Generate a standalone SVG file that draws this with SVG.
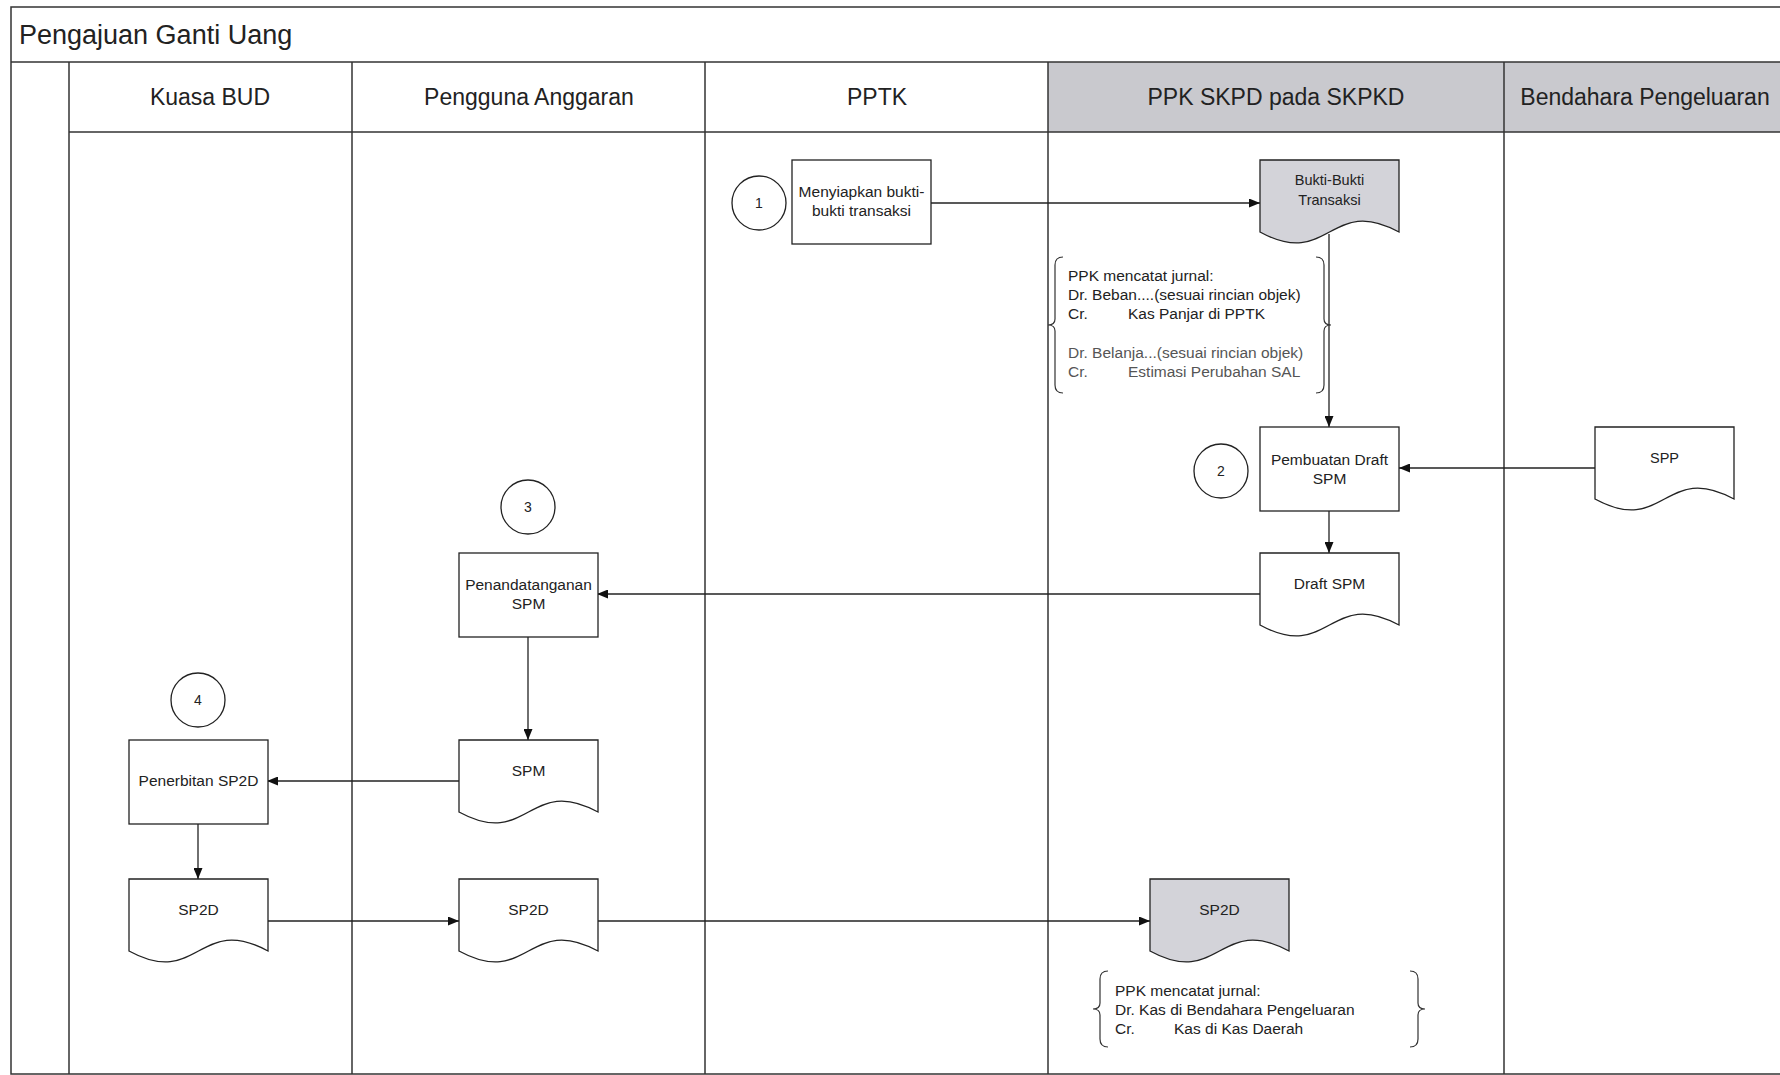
<svg xmlns="http://www.w3.org/2000/svg" width="1780" height="1075" viewBox="0 0 1780 1075">
<style>
  .frame{fill:none;stroke:#333;stroke-width:1.5}
  .grid{stroke:#333;stroke-width:1.5}
  .hdr{fill:#c9c9ce}
  .shape{fill:#fff;stroke:#222;stroke-width:1.3}
  .gshape{fill:#d3d3d9;stroke:#222;stroke-width:1.3}
  .conn{fill:none;stroke:#222;stroke-width:1.3}
  .brace{fill:none;stroke:#333;stroke-width:1.2}
  text{font-family:"Liberation Sans",Arial,sans-serif;fill:#222}
  .title{font-size:27px}
  .lane{font-size:23px;text-anchor:middle}
  .lbl{font-size:15.5px;text-anchor:middle}
  .sm{font-size:14.5px;text-anchor:middle}
  .num{font-size:14px;text-anchor:middle}
  .note{font-size:15.5px}
  .note2{font-size:15.5px;fill:#555}
</style>
<defs>
  <marker id="arr" markerUnits="userSpaceOnUse" markerWidth="11" markerHeight="9" refX="11" refY="4.5" orient="auto">
    <path d="M0,0 L11,4.5 L0,9 Z" fill="#111"/>
  </marker>
</defs>

<g id="frame">
  <rect class="hdr" x="1048" y="62" width="740" height="70"/>
  <rect class="frame" x="11" y="7" width="1790" height="1067"/>
  <line class="grid" x1="11" y1="62" x2="1780" y2="62"/>
  <line class="grid" x1="69" y1="62" x2="69" y2="1074"/>
  <line class="grid" x1="69" y1="132" x2="1780" y2="132"/>
  <line class="grid" x1="352" y1="62" x2="352" y2="1074"/>
  <line class="grid" x1="705" y1="62" x2="705" y2="1074"/>
  <line class="grid" x1="1048" y1="62" x2="1048" y2="1074"/>
  <line class="grid" x1="1504" y1="62" x2="1504" y2="1074"/>
  <text class="title" x="19" y="44">Pengajuan Ganti Uang</text>
  <text class="lane" x="210" y="105">Kuasa BUD</text>
  <text class="lane" x="529" y="105">Pengguna Anggaran</text>
  <text class="lane" x="877" y="105">PPTK</text>
  <text class="lane" x="1276" y="105">PPK SKPD pada SKPKD</text>
  <text class="lane" x="1645" y="105">Bendahara Pengeluaran</text>
</g>

<g id="connectors">
  <path class="conn" d="M931,203 H1260" marker-end="url(#arr)"/>
  <path class="conn" d="M1329,234 V427" marker-end="url(#arr)"/>
  <path class="conn" d="M1595,468 H1399" marker-end="url(#arr)"/>
  <path class="conn" d="M1329,511 V553" marker-end="url(#arr)"/>
  <path class="conn" d="M1260,594 H597" marker-end="url(#arr)"/>
  <path class="conn" d="M528,637 V740" marker-end="url(#arr)"/>
  <path class="conn" d="M459,781 H267" marker-end="url(#arr)"/>
  <path class="conn" d="M198,824 V879" marker-end="url(#arr)"/>
  <path class="conn" d="M267,921 H459" marker-end="url(#arr)"/>
  <path class="conn" d="M597,921 H1150" marker-end="url(#arr)"/>
</g>

<g id="step1">
  <circle class="shape" cx="759" cy="203" r="27"/>
  <text class="num" x="759" y="208">1</text>
</g>
<g id="menyiapkan">
  <rect class="shape" x="792" y="160" width="139" height="84"/>
  <text class="lbl" x="861.5" y="197">Menyiapkan bukti-</text>
  <text class="lbl" x="861.5" y="216">bukti transaksi</text>
</g>
<g id="bukti">
  <path class="gshape" d="M1260,160 H1399 V232 C1329.5,194 1329.5,270 1260,232 Z"/>
  <text class="sm" x="1329.5" y="185">Bukti-Bukti</text>
  <text class="sm" x="1329.5" y="205">Transaksi</text>
</g>
<g id="jurnal1">
  <path class="brace" d="M1063,257 Q1055,257 1055,265 V319 Q1055,325 1048,325 Q1055,325 1055,331 V385 Q1055,393 1063,393"/>
  <path class="brace" d="M1316,257 Q1324,257 1324,265 V319 Q1324,325 1331,325 Q1324,325 1324,331 V385 Q1324,393 1316,393"/>
  <text class="note" x="1068" y="281">PPK mencatat jurnal:</text>
  <text class="note" x="1068" y="300">Dr. Beban....(sesuai rincian objek)</text>
  <text class="note" x="1068" y="319">Cr.</text>
  <text class="note" x="1128" y="319">Kas Panjar di PPTK</text>
  <text class="note2" x="1068" y="358">Dr. Belanja...(sesuai rincian objek)</text>
  <text class="note2" x="1068" y="377">Cr.</text>
  <text class="note2" x="1128" y="377">Estimasi Perubahan SAL</text>
</g>
<g id="step2">
  <circle class="shape" cx="1221" cy="471" r="27"/>
  <text class="num" x="1221" y="476">2</text>
</g>
<g id="pembuatan">
  <rect class="shape" x="1260" y="427" width="139" height="84"/>
  <text class="lbl" x="1329.5" y="465">Pembuatan Draft</text>
  <text class="lbl" x="1329.5" y="484">SPM</text>
</g>
<g id="spp">
  <path class="shape" d="M1595,427 H1734 V499 C1664.5,461 1664.5,537 1595,499 Z"/>
  <text class="sm" x="1664.5" y="463">SPP</text>
</g>
<g id="draftspm">
  <path class="shape" d="M1260,553 H1399 V625 C1329.5,587 1329.5,663 1260,625 Z"/>
  <text class="lbl" x="1329.5" y="589">Draft SPM</text>
</g>
<g id="step3">
  <circle class="shape" cx="528" cy="507" r="27"/>
  <text class="num" x="528" y="512">3</text>
</g>
<g id="penandatanganan">
  <rect class="shape" x="459" y="553" width="139" height="84"/>
  <text class="lbl" x="528.5" y="590">Penandatanganan</text>
  <text class="lbl" x="528.5" y="609">SPM</text>
</g>
<g id="spm">
  <path class="shape" d="M459,740 H598 V812 C528.5,774 528.5,850 459,812 Z"/>
  <text class="lbl" x="528.5" y="776">SPM</text>
</g>
<g id="step4">
  <circle class="shape" cx="198" cy="700" r="27"/>
  <text class="num" x="198" y="705">4</text>
</g>
<g id="penerbitan">
  <rect class="shape" x="129" y="740" width="139" height="84"/>
  <text class="lbl" x="198.5" y="786">Penerbitan SP2D</text>
</g>
<g id="sp2d1">
  <path class="shape" d="M129,879 H268 V951 C198.5,913 198.5,989 129,951 Z"/>
  <text class="lbl" x="198.5" y="915">SP2D</text>
</g>
<g id="sp2d2">
  <path class="shape" d="M459,879 H598 V951 C528.5,913 528.5,989 459,951 Z"/>
  <text class="lbl" x="528.5" y="915">SP2D</text>
</g>
<g id="sp2d3">
  <path class="gshape" d="M1150,879 H1289 V951 C1219.5,913 1219.5,989 1150,951 Z"/>
  <text class="lbl" x="1219.5" y="915">SP2D</text>
</g>
<g id="jurnal2">
  <path class="brace" d="M1108,971 Q1100,971 1100,979 V1003 Q1100,1009 1093,1009 Q1100,1009 1100,1015 V1039 Q1100,1047 1108,1047"/>
  <path class="brace" d="M1410,971 Q1418,971 1418,979 V1003 Q1418,1009 1425,1009 Q1418,1009 1418,1015 V1039 Q1418,1047 1410,1047"/>
  <text class="note" x="1115" y="996">PPK mencatat jurnal:</text>
  <text class="note" x="1115" y="1015">Dr. Kas di Bendahara Pengeluaran</text>
  <text class="note" x="1115" y="1034">Cr.</text>
  <text class="note" x="1174" y="1034">Kas di Kas Daerah</text>
</g>
</svg>
